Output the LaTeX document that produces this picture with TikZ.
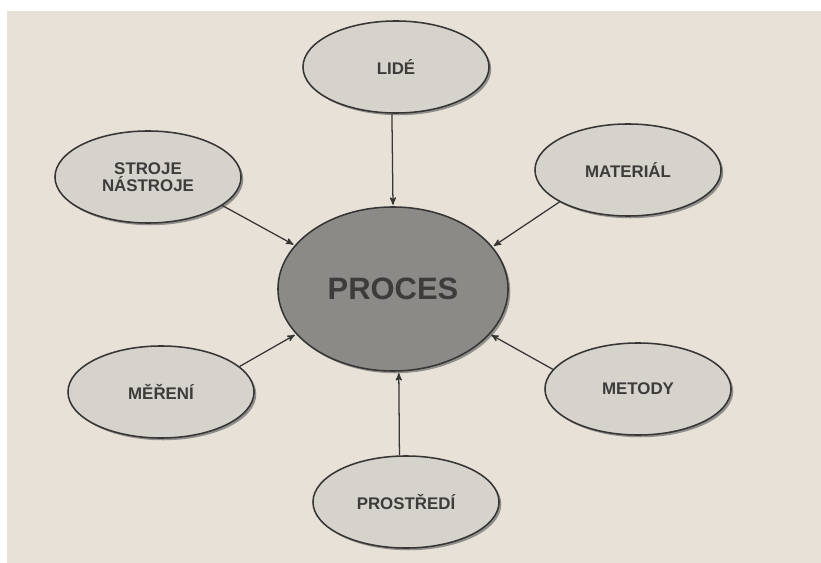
\documentclass[tikz,border=0pt]{standalone}
\usepackage{fontspec}
\setmainfont{Liberation Sans}
\usepackage{tikz}
\usetikzlibrary{arrows,shapes.geometric,shadows}

\definecolor{pagebg}{RGB}{231,225,216}
\definecolor{nodegray}{RGB}{214,211,205}
\definecolor{procgray}{RGB}{140,138,135}
\definecolor{linegray}{RGB}{55,54,53}
\definecolor{textgray}{RGB}{62,60,58}

\begin{document}
\begin{tikzpicture}[x=0.025cm,y=-0.025cm,->,>=stealth',shorten >=1pt,
  line width=0.9pt,draw=linegray,
  small node/.style={ellipse,draw=linegray,line width=1.1pt,fill=nodegray,
    minimum width=4.65cm,minimum height=2.3cm,inner sep=0pt,align=center,
    text=textgray,font=\fontsize{12}{12.5}\selectfont\bfseries,
    drop shadow={shadow xshift=1.6pt,shadow yshift=-1.6pt,fill=black!70,opacity=0.55}},
  main node/.style={small node,fill=procgray,minimum width=5.75cm,minimum height=4.1cm,
    font=\fontsize{22}{22}\selectfont\bfseries}]

% page
\fill[white,-] (0,0) rectangle (821,563);
\fill[pagebg,-] (7,11) rectangle (821,563);

\node[main node](PROCES) at (393,289) {PROCES};
\node[small node](LIDE) at (396,67) {LIDÉ};
\node[small node](STROJE) at (148,177) {STROJE\\NÁSTROJE};
\node[small node](MATERIAL) at (628,170) {MATERIÁL};
\node[small node](MERENI) at (161,392) {MĚŘENÍ};
\node[small node](METODY) at (638,389) {METODY};
\node[small node](PROSTREDI) at (406,502) {PROSTŘEDÍ};

\path
(LIDE.-95) edge (PROCES.90)
(STROJE.-21) edge (PROCES.156)
(MATERIAL.205) edge (PROCES.23)
(MERENI.18) edge (PROCES.205)
(METODY.167) edge (PROCES.-25)
(PROSTREDI.98) edge (PROCES.-86);

\end{tikzpicture}
\end{document}
